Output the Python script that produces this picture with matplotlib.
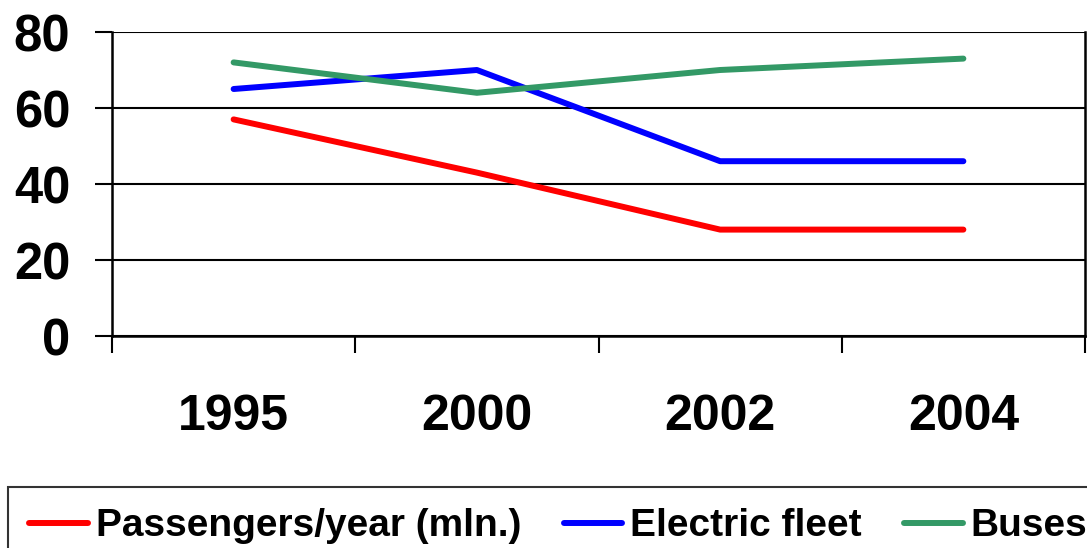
import matplotlib
matplotlib.use("Agg")
import matplotlib.pyplot as plt

years = ["1995", "2000", "2002", "2004"]
passengers = [57, 43, 28, 28]
electric = [65, 70, 46, 46]
buses = [72, 64, 70, 73]
series_names = ["Passengers/year (mln.)", "Electric fleet", "Buses"]
colors = ["#FF0000", "#0000FF", "#339966"]
yticks = [0, 20, 40, 60, 80]

plt.rcParams['font.family'] = ['Liberation Sans', 'DejaVu Sans']
plt.rcParams['font.weight'] = 'bold'

fig = plt.figure(figsize=(10.87, 5.48), dpi=100)
ax = fig.add_axes([112/1087, 1-336/548, (1085-112)/1087, (336-32)/548])

x = list(range(len(years)))
for vals, name, c in zip([passengers, electric, buses], series_names, colors):
    ax.plot(x, vals, color=c, lw=4.3, solid_capstyle='round', label=name, zorder=3)

ax.set_xlim(-0.5, len(years) - 0.5)
ax.set_ylim(0, 80)
ax.set_yticks(yticks)
ax.set_yticklabels([str(v) for v in yticks], fontsize=36.5, fontweight='bold')
ax.set_xticks([i - 0.5 for i in range(len(years) + 1)])
ax.set_xticklabels([])
ax.set_xticks(x, minor=True)
ax.set_xticklabels(years, minor=True, fontsize=36, fontweight='bold')
ax.tick_params(axis='x', which='minor', length=0, pad=42)
ax.tick_params(axis='x', which='major', length=12, width=1.5, direction='out')
ax.tick_params(axis='y', length=12, width=1.5, direction='out', pad=18)
ax.yaxis.grid(True, color='black', lw=1.5)
ax.set_axisbelow(True)
for s in ['left', 'bottom', 'right']:
    ax.spines[s].set_linewidth(1.8)
ax.spines['top'].set_visible(False)

leg = fig.legend(loc='upper left', bbox_to_anchor=(8/1087, 1-487/548), ncol=3,
                 frameon=True, fancybox=False, borderaxespad=0,
                 prop={'size': 28, 'weight': 'bold'}, handlelength=1.5,
                 handletextpad=0.2, columnspacing=1.1, borderpad=0.55)
leg.get_frame().set_edgecolor('black')
leg.get_frame().set_linewidth(1.5)

fig.savefig("out.png", dpi=100)
